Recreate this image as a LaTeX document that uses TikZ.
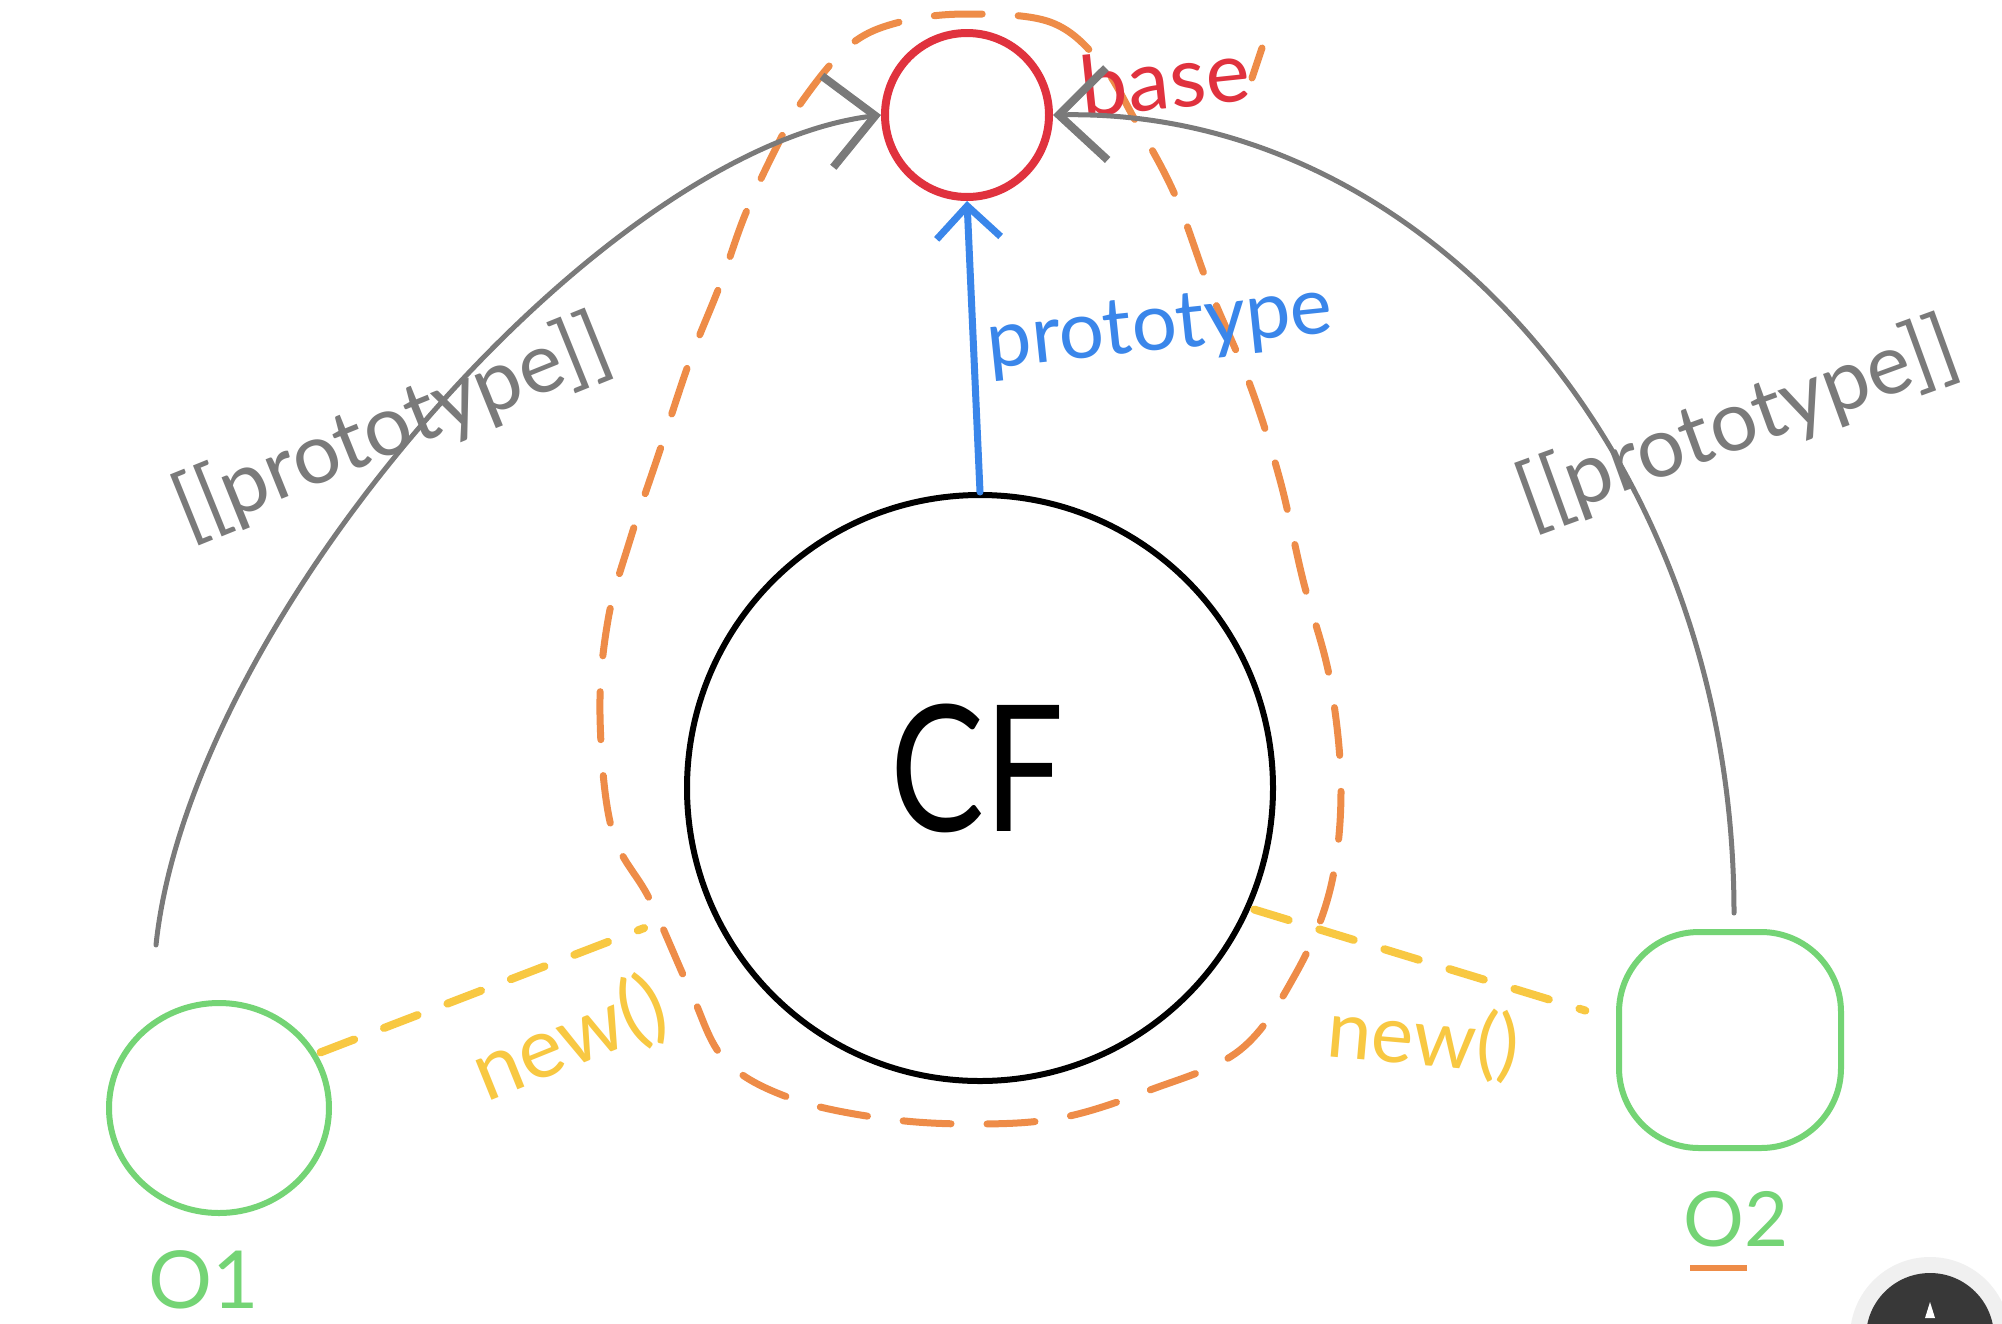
\documentclass[tikz,border=0pt]{standalone}
\usepackage{fontspec}
\setmainfont{Lato}
\usetikzlibrary{arrows.meta,shapes.geometric}
\definecolor{cred}{HTML}{E0323E}
\definecolor{cgray}{HTML}{7A7A7A}
\definecolor{cblue}{HTML}{3A86EA}
\definecolor{cgreen}{HTML}{74D475}
\definecolor{corange}{HTML}{EE8C48}
\definecolor{cyellow}{HTML}{F8C842}
\tikzset{
  redcirc/.style={circle, draw=cred, line width=4pt, minimum size=82pt, inner sep=0pt},
  cfcirc/.style={circle, draw=black, line width=3pt, minimum size=293pt, inner sep=0pt},
  greenobj/.style={draw=cgreen, line width=3pt, inner sep=0pt},
  grayarrow/.style={draw=cgray, line width=2.5pt, line cap=round,
     -{Straight Barb[length=24pt,width=46pt,line width=4pt]}},
  bluearrow/.style={draw=cblue, line width=3.5pt, line cap=round,
     -{Straight Barb[length=16pt,width=32pt,line width=3.5pt]}},
  yellowdash/.style={draw=cyellow, line width=4pt, dash pattern=on 18pt off 16pt, line cap=round},
  orangedash/.style={draw=corange, line width=3.5pt, dash pattern=on 24pt off 18pt, line cap=round},
  lbl/.style={inner sep=0pt},
}
\begin{document}
\begin{tikzpicture}[x=0.5pt,y=-0.5pt]
\fill[white] (0,0) rectangle (2002,1323);
\useasboundingbox (0,0) rectangle (2002,1323);

% orange dashed outline
\draw[orangedash] plot[smooth cycle, tension=0.6] coordinates {
 (967,14) (1050,22) (1100,62) (1135,120) (1175,195) (1210,290) (1250,385)
 (1280,480) (1303,580) (1330,680) (1341,790) (1330,890) (1295,975) (1240,1050)
 (1150,1090) (1060,1118) (970,1124) (880,1118) (790,1098) (725,1060) (690,990)
 (650,900) (612,830) (600,715) (608,620) (630,540) (660,450) (690,360) (720,285)
 (745,215) (775,150) (803,100) (850,45) (900,22)};
\draw[corange, line width=3.5pt, line cap=round] (1252,78) -- (1262,48);

% main nodes
\node[redcirc] (base) at (967,115) {};
\node[cfcirc] (CF) at (980,788) {};
\node[greenobj, ellipse, minimum width=110pt, minimum height=105pt] (O1) at (219,1108) {};
\node[greenobj, rectangle, rounded corners=40pt, minimum width=111pt, minimum height=108pt] (O2) at (1730,1040) {};

% labels
\node[lbl, text=black, font=\fontsize{88}{90}\selectfont, xscale=0.8] (cft) at (977,768) {CF};
\node[lbl, text=cred, font=\fontsize{42}{44}\selectfont, rotate=6] (basel) at (1165,78) {base};
\node[lbl, text=cblue, font=\fontsize{40}{42}\selectfont, rotate=6] (protol) at (1160,330) {prototype};
\node[lbl, text=cgray, font=\fontsize{42}{44}\selectfont, rotate=22] (pl1) at (392,428) {[[prototype]]};
\node[lbl, text=cgray, font=\fontsize{42}{44}\selectfont, rotate=20] (pl2) at (1738,424) {[[prototype]]};
\node[lbl, text=cyellow, font=\fontsize{42}{44}\selectfont, rotate=22] (n1) at (570,1040) {new()};
\node[lbl, text=cyellow, font=\fontsize{40}{42}\selectfont, rotate=-5] (n2) at (1423,1040) {new()};
\node[lbl, text=cgreen, font=\fontsize{40}{42}\selectfont] (o1l) at (204,1280) {O1};
\node[lbl, text=cgreen, font=\fontsize{38}{40}\selectfont] (o2l) at (1736,1219) {O2};
\coordinate (ul1) at (1690,1268);
\coordinate (ul2) at (1747,1268);
\draw[corange, line width=3pt] (ul1) -- (ul2);

% connectors
\draw[bluearrow] (CF.north) -- (base.south);
\coordinate (g1) at (156,945);
\draw[grayarrow] (g1) .. controls (190,620) and (600,150) .. (base.west);
\coordinate (g2) at (1734,913);
\draw[grayarrow] (g2) .. controls (1734,460) and (1426,108) .. (base.east);
\draw[yellowdash, shorten <=2pt, shorten >=34pt] (O1.29) -- (CF.203);
\draw[yellowdash, shorten <=2pt, shorten >=16pt] (CF.-24) -- (O2.170);

% corner button (partially visible)
\begin{scope}
\clip (0,0) rectangle (2002,1323);
\fill[black!6] (1930,1337) circle[radius=40pt];
\fill[black!78] (1930,1337) circle[radius=32pt];
\fill[white] (1925,1318) -- (1930,1302) -- (1935,1318) -- cycle;
\end{scope}
\end{tikzpicture}
\end{document}
